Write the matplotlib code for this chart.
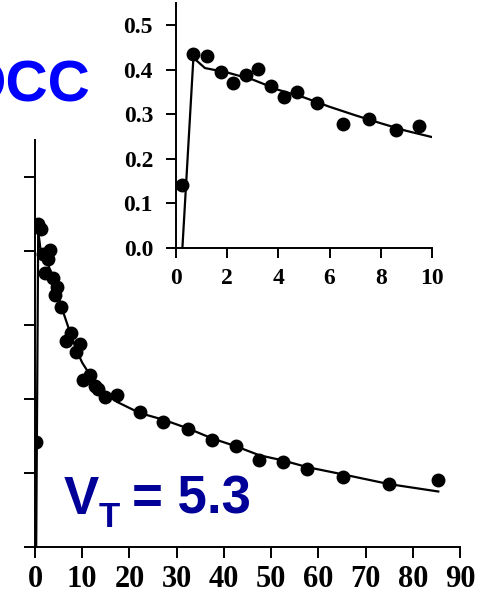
import numpy as np
import matplotlib
matplotlib.use('Agg')
import matplotlib.pyplot as plt

# measured time-activity data (time in min, uptake)
t_early = [0.22, 0.68, 1.20, 1.74, 2.21, 2.73, 3.22, 3.71, 4.23, 4.71,
           5.49, 6.54, 7.54, 8.58, 9.50]
y_early = [0.142, 0.436, 0.430, 0.396, 0.370, 0.389, 0.401, 0.364, 0.340, 0.351,
           0.325, 0.279, 0.289, 0.264, 0.274]
t_late = [10.2, 11.7, 12.7, 13.4, 14.8, 17.3, 22.2, 27.2, 32.5, 37.4,
          42.6, 47.5, 52.5, 57.6, 65.3, 75.0, 85.3]
y_late = [0.226, 0.232, 0.217, 0.214, 0.203, 0.205, 0.182, 0.169, 0.160, 0.145,
          0.136, 0.118, 0.115, 0.106, 0.094, 0.085, 0.091]

# model fit
t_fit = [0.25, 0.68, 1.13, 2.0, 3.0, 4.0, 5.0, 6.0, 7.0, 8.0, 9.0, 10.0,
         12.0, 14.0, 17.4, 22.2, 27.2, 32.5, 37.4, 42.6, 47.5, 52.5, 57.6,
         65.3, 75.0, 85.4]
y_fit = [0.0, 0.427, 0.404, 0.394, 0.378, 0.355, 0.338, 0.317, 0.298, 0.280,
         0.263, 0.249, 0.229, 0.214, 0.196, 0.181, 0.172, 0.160, 0.147, 0.136,
         0.124, 0.117, 0.108, 0.098, 0.085, 0.075]

main_xticks = [0, 10, 20, 30, 40, 50, 60, 70, 80, 90]
main_yticks = [0.0, 0.1, 0.2, 0.3, 0.4, 0.5]
inset_xticks = [0, 2, 4, 6, 8, 10]
inset_yticks = [0.0, 0.1, 0.2, 0.3, 0.4, 0.5]

W, H = 478, 598
fig = plt.figure(figsize=(W / 100, H / 100), dpi=100)

serif_bold = {'family': 'Liberation Serif', 'weight': 'bold'}

t_all = np.array(t_early + t_late)
y_all = np.array(y_early + y_late)
t_fit = np.array(t_fit)
y_fit = np.array(y_fit)


def style_axes(ax, tick_len):
    for side in ['top', 'right']:
        ax.spines[side].set_visible(False)
    for side in ['left', 'bottom']:
        ax.spines[side].set_linewidth(1.4)
    ax.tick_params(direction='out', length=tick_len, width=1.4, color='black')


# main plot
ax = fig.add_axes([35 / W, 51 / H, (460 - 35) / W, (547 - 140) / H])
ax.patch.set_alpha(0)
ax.plot(t_fit, y_fit, color='black', lw=1.6, zorder=2)
ax.plot(t_all, y_all, 'o', color='black', ms=9, zorder=3)
ax.set_xlim(0, 90)
ax.set_ylim(0, 0.55)
ax.set_xticks(main_xticks)
ax.set_xticklabels([str(v) for v in main_xticks], fontdict=serif_bold, fontsize=22)
ax.set_yticks(main_yticks)
ax.set_yticklabels([])
style_axes(ax, 8)
ax.tick_params(axis='x', pad=5)

# inset with the first 10 minutes
axi = fig.add_axes([176 / W, 350 / H, (432 - 176) / W, 245 / H])
axi.patch.set_alpha(0)
mask = t_fit <= 10
axi.plot(t_fit[mask], y_fit[mask], color='black', lw=1.6, zorder=2)
m2 = t_all <= 10
axi.plot(t_all[m2], y_all[m2], 'o', color='black', ms=9, zorder=3)
axi.set_xlim(0, 10)
axi.set_ylim(0, 0.55)
axi.set_xticks(inset_xticks)
axi.set_xticklabels([str(v) for v in inset_xticks], fontdict=serif_bold, fontsize=17)
axi.set_yticks(inset_yticks)
axi.set_yticklabels([f'{v:.1f}' for v in inset_yticks], fontdict=serif_bold, fontsize=17)
style_axes(axi, 7.5)
axi.tick_params(axis='x', pad=7)
axi.tick_params(axis='y', pad=9)

# labels
fig.text(90 / W, 1 - 86 / H, 'OCC', color='#0000ff', fontsize=42,
         family='Liberation Sans', weight='bold', ha='right', va='center')
fig.text(64 / W, 1 - 514 / H, 'V', color='#000099', fontsize=38,
         family='Liberation Sans', weight='bold', ha='left', va='baseline')
fig.text(99 / W, 1 - 527 / H, 'T', color='#000099', fontsize=25,
         family='Liberation Sans', weight='bold', ha='left', va='baseline')
fig.text(132 / W, 1 - 514 / H, '= 5.3', color='#000099', fontsize=38,
         family='Liberation Sans', weight='bold', ha='left', va='baseline')

fig.savefig('out.png', dpi=100)
